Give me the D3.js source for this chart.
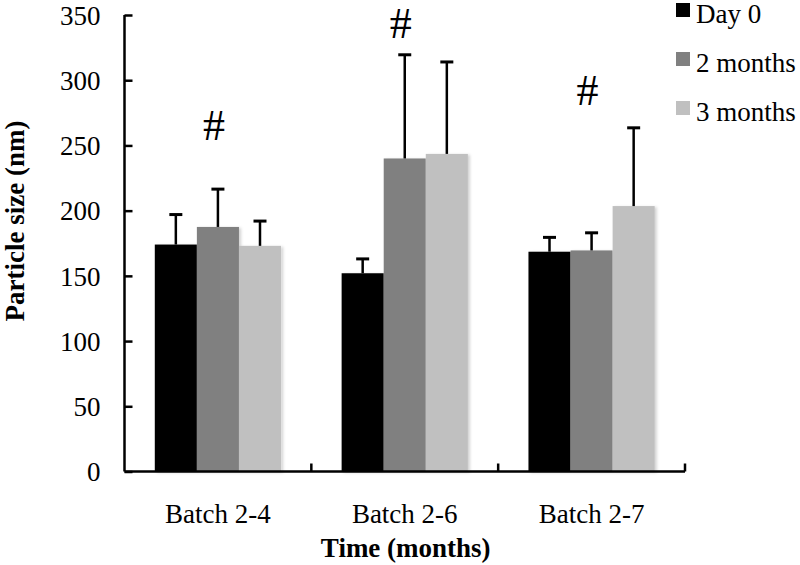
<!DOCTYPE html>
<html>
<head>
<meta charset="utf-8">
<script src="https://cdn.jsdelivr.net/npm/d3@7"></script>
<style>
  html, body { margin: 0; padding: 0; background: #fff; }
  svg { display: block; }
  text { font-family: "Liberation Serif", "Times New Roman", serif; fill: #000; }
</style>
</head>
<body>
<svg id="chart" width="800" height="565"></svg>
<script>
const categories = ["Batch 2-4", "Batch 2-6", "Batch 2-7"];
const seriesNames = ["Day 0", "2 months", "3 months"];
const seriesColors = ["#000000", "#808080", "#c0c0c0"];
const day0 = [174, 152, 168.5];
const month2 = [187.5, 240, 169.5];
const month3 = [173, 243.5, 203.5];
const day0Err = [23, 11, 11];
const month2Err = [29, 79.5, 13.5];
const month3Err = [19, 70.5, 60];
const hashMarks = [1, 1, 1];        // series index marked with "#" per category
const hashValues = [254, 332, 281];  // height (in nm) of the "#" baseline
const yTicks = [0, 50, 100, 150, 200, 250, 300, 350];

const values = [day0, month2, month3];
const errors = [day0Err, month2Err, month3Err];

const svg = d3.select("#chart");
const mLeft = 124.5, mRight = 685, mTop = 15, mBottom = 471.5;

const x = d3.scaleBand().domain(categories).range([mLeft, mRight]).paddingInner(0).paddingOuter(0);
const inner = d3.scaleBand().domain(seriesNames).range([0, x.bandwidth()]).paddingInner(0).paddingOuter(0.72);
const y = d3.scaleLinear().domain([0, 350]).range([mBottom, mTop]);

// shadow filter
const defs = svg.append("defs");
const f = defs.append("filter").attr("id", "sh").attr("x", "-10%").attr("y", "-10%").attr("width", "130%").attr("height", "120%");
f.append("feDropShadow").attr("dx", 2).attr("dy", 1).attr("stdDeviation", 1.5).attr("flood-color", "#000").attr("flood-opacity", 0.18);

// bars
const data = [];
categories.forEach((c, ci) => {
  seriesNames.forEach((s, si) => {
    data.push({ c, s, si, v: values[si][ci], e: errors[si][ci] });
  });
});

const g = svg.append("g");
g.selectAll("rect.bar").data(data).enter().append("rect")
  .attr("class", "bar")
  .attr("x", d => x(d.c) + inner(d.s))
  .attr("y", d => y(d.v))
  .attr("width", inner.bandwidth())
  .attr("height", d => y(0) - y(d.v))
  .attr("fill", d => seriesColors[d.si])
  .attr("filter", "url(#sh)");

// error bars
const capW = 13;
const eb = g.selectAll("g.err").data(data).enter().append("g").attr("class", "err");
eb.append("line")
  .attr("x1", d => x(d.c) + inner(d.s) + inner.bandwidth() / 2)
  .attr("x2", d => x(d.c) + inner(d.s) + inner.bandwidth() / 2)
  .attr("y1", d => y(d.v))
  .attr("y2", d => y(d.v + d.e))
  .attr("stroke", "#000").attr("stroke-width", 2.5);
eb.append("line")
  .attr("x1", d => x(d.c) + inner(d.s) + inner.bandwidth() / 2 - capW / 2)
  .attr("x2", d => x(d.c) + inner(d.s) + inner.bandwidth() / 2 + capW / 2)
  .attr("y1", d => y(d.v + d.e))
  .attr("y2", d => y(d.v + d.e))
  .attr("stroke", "#000").attr("stroke-width", 3);

// hash marks
categories.forEach((c, ci) => {
  const si = hashMarks[ci];
  svg.append("text")
    .attr("x", x(c) + inner(seriesNames[si]) + inner.bandwidth() / 2 - 4)
    .attr("y", y(hashValues[ci]))
    .attr("text-anchor", "middle")
    .attr("font-size", 44)
    .text("#");
});

// y axis
const yAxis = d3.axisLeft(y).tickValues(yTicks).tickSize(-8).tickPadding(24);
const ya = svg.append("g").attr("transform", `translate(${mLeft},0)`).call(yAxis);
ya.select(".domain").attr("stroke", "#000").attr("stroke-width", 2.5).attr("d", `M0,${mTop}V${mBottom}`);
ya.selectAll(".tick line").attr("stroke", "#000").attr("stroke-width", 2.5);
ya.selectAll(".tick text").attr("font-size", 27).attr("font-family", "Liberation Serif").attr("fill", "#000").attr("dy", "0.34em");

// x axis
const bounds = categories.map(c => x(c) + x.bandwidth());
const xa = svg.append("g");
xa.append("path").attr("d", `M${mLeft},${mBottom}H${mRight}`).attr("stroke", "#000").attr("stroke-width", 2.5).attr("fill", "none");
xa.selectAll("line.xt").data(bounds).enter().append("line")
  .attr("x1", d => d).attr("x2", d => d)
  .attr("y1", mBottom).attr("y2", mBottom - 8)
  .attr("stroke", "#000").attr("stroke-width", 2.5);
xa.selectAll("text.xl").data(categories).enter().append("text")
  .attr("x", d => x(d) + x.bandwidth() / 2)
  .attr("y", 523)
  .attr("text-anchor", "middle")
  .attr("font-size", 27)
  .text(d => d);

// axis titles
svg.append("text")
  .attr("x", (mLeft + mRight) / 2 + 1)
  .attr("y", 557)
  .attr("text-anchor", "middle")
  .attr("font-size", 27)
  .attr("font-weight", "bold")
  .text("Time (months)");
svg.append("text")
  .attr("transform", `translate(24,221) rotate(-90)`)
  .attr("text-anchor", "middle")
  .attr("font-size", 27)
  .attr("font-weight", "bold")
  .text("Particle size (nm)");

// legend
const lg = svg.append("g");
seriesNames.forEach((s, i) => {
  const base = 23 + i * 49;
  lg.append("rect").attr("x", 676).attr("y", base - 20).attr("width", 14).attr("height", 14).attr("fill", seriesColors[i]);
  lg.append("text").attr("x", 696).attr("y", base).attr("font-size", 27).text(s);
});
</script>
</body>
</html>
